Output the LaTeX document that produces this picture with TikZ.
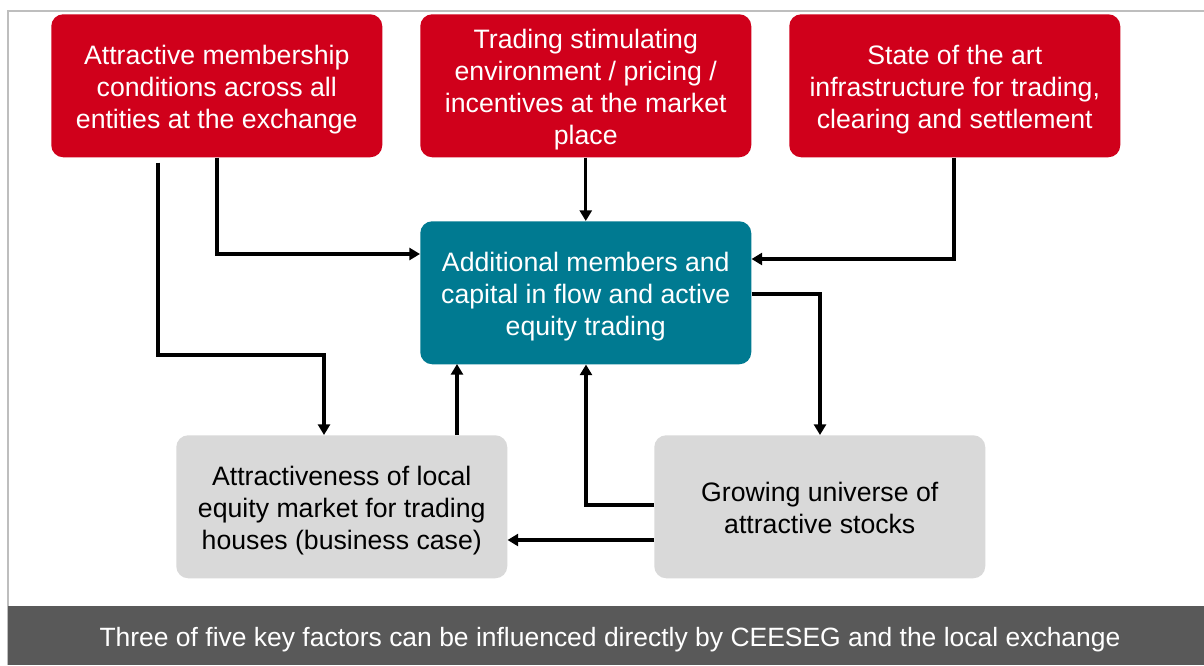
\documentclass[tikz,border=0pt]{standalone}
\usepackage{fontspec}
\setmainfont{Liberation Sans}
\usetikzlibrary{arrows.meta}
\definecolor{cred}{RGB}{208,0,27}
\definecolor{cteal}{RGB}{0,122,145}
\definecolor{cgrey}{RGB}{217,217,217}
\definecolor{cbar}{RGB}{89,89,89}
\definecolor{cframe}{RGB}{190,190,190}
\begin{document}
\begin{tikzpicture}[x=0.75pt,y=-0.75pt,
  box/.style={rounded corners=9pt,minimum width=248.25pt,minimum height=107.25pt,
    align=center,font=\fontsize{20}{24}\selectfont,inner sep=0pt,anchor=north west},
  lbl/.style={align=center,font=\fontsize{20}{24}\selectfont,inner sep=0pt},
  redbox/.style={box,fill=cred},
  tealbox/.style={box,fill=cteal},
  greybox/.style={box,fill=cgrey},
  conn/.style={line width=2.3pt,-{Triangle[length=8pt,width=9pt]}}]
\useasboundingbox (0,0) rectangle (1204,665);
\fill[white] (0,0) rectangle (1204,665);
\draw[cframe,line width=1.5pt] (8,665) -- (8,11) -- (1204,11);
\fill[cbar] (8,606) rectangle (1204,665);
\node[text=white,font=\fontsize{19.85}{24}\selectfont] (foot) at (610,640)
  {Three of five key factors can be influenced directly by CEESEG and the local exchange};
\node[redbox] (r1) at (51,14) {};
\node[redbox] (r2) at (420,14) {};
\node[redbox] (r3) at (789,14) {};
\node[tealbox] (t) at (420,221) {};
\node[greybox] (g1) at (176,435) {};
\node[greybox] (g2) at (654,435) {};
\node[lbl,text=white] (r1t) at ([yshift=-3pt]r1.center) {Attractive membership\\conditions across all\\entities at the exchange};
\node[lbl,text=white] (r2t) at ([yshift=-3pt]r2.center) {Trading stimulating\\environment / pricing /\\incentives at the market\\place};
\node[lbl,text=white] (r3t) at ([yshift=-3pt]r3.center) {State of the art\\infrastructure for trading,\\clearing and settlement};
\node[lbl,text=white] (tt) at ([yshift=-3pt]t.center) {Additional members and\\capital in flow and active\\equity trading};
\node[lbl,text=black] (g1t) at ([yshift=-3pt]g1.center) {Attractiveness of local\\equity market for trading\\houses (business case)};
\node[lbl,text=black] (g2t) at ([yshift=-0.75pt]g2.center) {Growing universe of\\attractive stocks};
\coordinate (c1) at (217,254);
\coordinate (c2) at (158,355);
\coordinate (c3) at (324,355);
\coordinate (c4) at (954,259);
\coordinate (c5) at (820,294);
\coordinate (c6) at (586,505);
\draw[conn] (c1 |- r1.south) -- (c1) -- (c1 -| t.west);
\draw[conn] ([yshift=-3.75pt]c2 |- r1.south) -- (c2) -- (c3) -- (c3 |- g1.north);
\draw[conn] (r2.south) -- (t.north);
\draw[conn] (c4 |- r3.south) -- (c4) -- (c4 -| t.east);
\draw[conn] (c5 -| t.east) -- (c5) -- (c5 |- g2.north);
\draw[conn] (457,435) -- (457,364);
\draw[conn] (c6 -| g2.west) -- (c6) -- (c6 |- t.south);
\draw[conn] (654,540) -- (g1.east |- 0,540);
\end{tikzpicture}
\end{document}
